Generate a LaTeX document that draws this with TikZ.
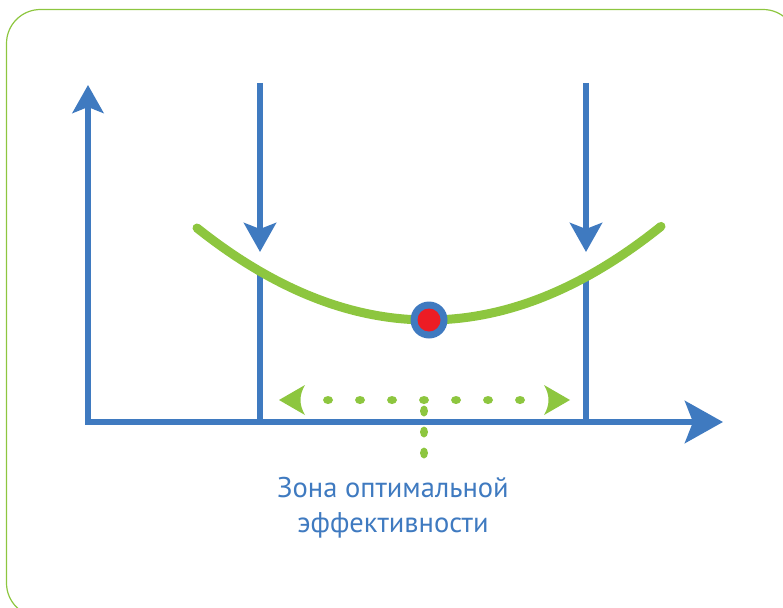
\documentclass[tikz,border=0pt]{standalone}
\usepackage{fontspec}
\setmainfont{PT Sans}
\usetikzlibrary{arrows.meta}
\definecolor{axblue}{HTML}{3F7AC0}
\definecolor{grn}{HTML}{8DC63F}
\definecolor{dotred}{HTML}{ED1C24}
\tikzset{
  axis/.style={draw=axblue, line width=6.5pt},
  curve/.style={draw=grn, line width=9pt, line cap=round},
  greendot/.style={fill=grn},
}
\begin{document}
\begin{tikzpicture}[x=1pt,y=-1pt]
\useasboundingbox (0,0) rectangle (783,607);
% frame
\draw[grn, line width=1.2pt, rounded corners=34pt] (6.5,9.5) rectangle (797,617);
% coordinates
\coordinate (ytip) at (88,85);
\coordinate (origin) at (88,422);
\coordinate (xtip) at (723,422);
\coordinate (lt) at (260,83);
\coordinate (ltip) at (260,252);
\coordinate (lc) at (260,271);
\coordinate (lb) at (260,422);
\coordinate (rt) at (586,83);
\coordinate (rtip) at (586,252);
\coordinate (rc) at (586,277);
\coordinate (rb) at (586,422);
% axes
\draw[axis, line join=miter, {Stealth[length=28pt,width=31pt,inset=6pt]}-{Stealth[length=38pt,width=42pt,inset=8pt]}] (ytip) -- (origin) -- (xtip);
% vertical lines
\draw[axis, -{Stealth[length=29pt,width=32pt,inset=6pt]}] (lt) -- (ltip);
\draw[axis, -{Stealth[length=29pt,width=32pt,inset=6pt]}] (rt) -- (rtip);
\draw[axis] (lc) -- (lb);
\draw[axis] (rc) -- (rb);
% dotted double arrow
\fill[grn] (279,400) -- (305,385) .. controls (299,395) and (299,405) .. (305,415) -- cycle;
\fill[grn] (570,400) -- (544,385) .. controls (550,395) and (550,405) .. (544,415) -- cycle;
\foreach \x in {328,360,392,424,456,488,520}
  \fill[greendot] (\x,400) ellipse [x radius=5pt, y radius=4pt];
\foreach \y in {411,432,453}
  \fill[greendot] (424,\y) ellipse [x radius=4pt, y radius=5.5pt];
% curve
\draw[curve] plot[domain=197:661, samples=60, smooth] (\x,{320-0.00173*(\x-428)*(\x-428)});
% point
\node[circle, fill=axblue, minimum size=37pt, inner sep=0pt] (pt) at (429,320) {};
\node[circle, fill=dotred, minimum size=23pt, inner sep=0pt] (ptin) at (pt) {};
% label
\node[text=axblue, font=\fontsize{28.5pt}{35pt}\selectfont, align=center, anchor=base] (lbl) at (393,532) {Зона оптимальной\\эффективности};
\end{tikzpicture}
\end{document}
